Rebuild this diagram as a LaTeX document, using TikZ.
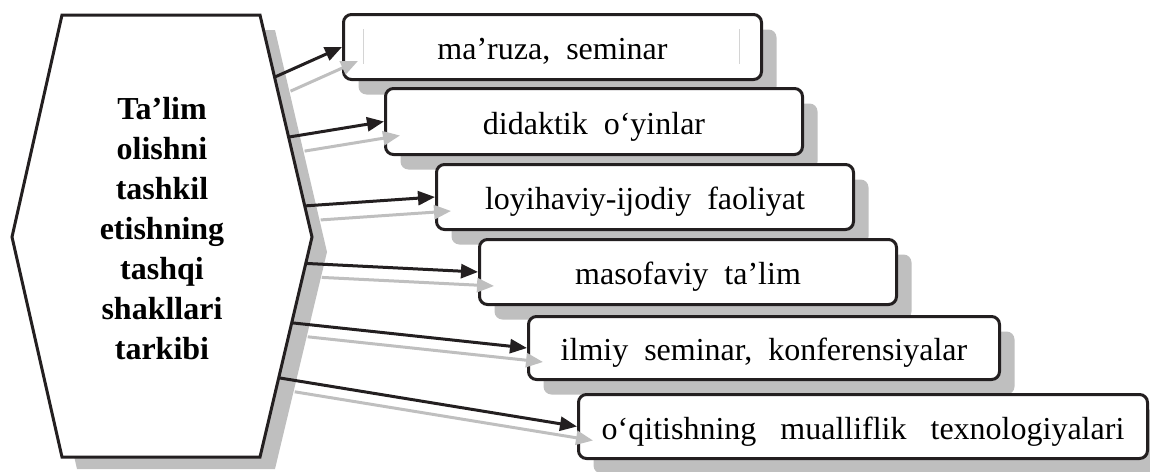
\documentclass[tikz,border=0pt]{standalone}
\usepackage{fontspec}
\setmainfont{Liberation Serif}
\usetikzlibrary{arrows.meta,calc,shadows}
\definecolor{fmInk}  {HTML}{231F20}
\definecolor{fmShade}{HTML}{BFBFBF}
\definecolor{fmFrame}{HTML}{D4D4D4}

\begin{document}
\begin{tikzpicture}[x=1pt,y=-1pt,font=\fontsize{32}{40}\selectfont,
    formbox/.style={draw=fmInk,fill=white,line width=3pt,rounded corners=8pt,
      minimum height=65pt,inner sep=0pt,text height=30pt,text depth=5pt,anchor=north west,
      drop shadow={shadow xshift=15pt,shadow yshift=-15pt,fill=fmShade,opacity=1}},
    link/.style={draw=fmInk,line width=3pt,-{Triangle[length=17pt,width=14pt]}},
    linkshade/.style={link,draw=fmShade}]
  \useasboundingbox (0,0) rectangle (1150,471);

  \coordinate (hTL) at (62,15);
  \coordinate (hTR) at (260,15);
  \coordinate (hR)  at (312,237);
  \coordinate (hBR) at (260,457);
  \coordinate (hBL) at (62,457);
  \coordinate (hL)  at (12,237);

  \fill[fmShade] ($(hTL)+(15,15)$) -- ($(hTR)+(15,15)$) -- ($(hR)+(15,15)$)
    -- ($(hBR)+(15,12)$) -- ($(hBL)+(15,12)$) -- ($(hL)+(15,15)$) -- cycle;
  \draw[fmInk,fill=white,line width=3pt]
    (hTL) -- (hTR) -- (hR) -- (hBR) -- (hBL) -- (hL) -- cycle;
  \node[font=\fontsize{32}{40}\selectfont\bfseries,align=center] (hexText) at (162,229)
    {Ta’lim\\olishni\\tashkil\\etishning\\tashqi\\shakllari\\tarkibi};

  \node[formbox,minimum width=418pt] (b1) at (342,13)  {ma’ruza,\ \ seminar};
  \node[formbox,minimum width=417pt,minimum height=66pt] (b2) at (384,87)
    {didaktik\ \ o‘yinlar};
  \node[formbox,minimum width=417pt] (b3) at (435,163) {loyihaviy-ijodiy\ \ faoliyat};
  \node[formbox,minimum width=417pt] (b4) at (478,238) {masofaviy\ \ ta’lim};
  \node[formbox,minimum width=471pt,minimum height=63pt] (b5) at (527,315)
    {ilmiy\ \ seminar,\ \ konferensiyalar};
  \node[formbox,minimum width=569pt,minimum height=64pt] (b6) at (577,393)
    {o‘qitishning\ \ \ mualliflik\ \ \ texnologiyalari};
  \draw[fmFrame,line width=1pt] (363,29) -- (363,64) (739,29) -- (739,64);

  \coordinate (s1) at ($(hTR)!0.28!(hR)$);
  \coordinate (s2) at ($(hTR)!0.55!(hR)$);
  \coordinate (s3) at ($(hTR)!0.86!(hR)$);
  \coordinate (s4) at ($(hR)!0.12!(hBR)$);
  \coordinate (s5) at ($(hR)!0.39!(hBR)$);
  \coordinate (s6) at ($(hR)!0.64!(hBR)$);

  \foreach \i in {1,...,6}
    \draw[linkshade] ($(s\i)+(16,14)$) -- ($(b\i.west)+(16,14)$);
  \foreach \i in {1,...,6}
    \draw[link] (s\i) -- (b\i.west);
\end{tikzpicture}
\end{document}
